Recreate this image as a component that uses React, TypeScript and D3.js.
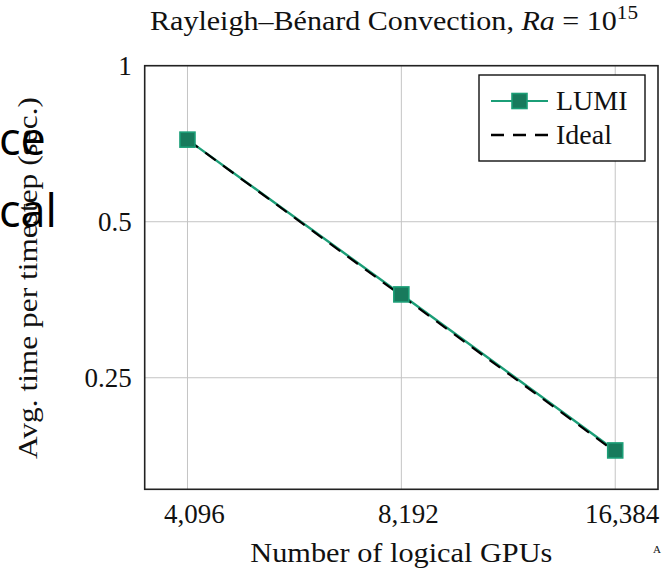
import React from "react";
import * as d3 from "d3";

const gpus = [4096, 8192, 16384];
const lumiTime = [0.72, 0.362, 0.181];
const idealTime = [0.72, 0.36, 0.18];
const yTicks = [1, 0.5, 0.25];
const xTickLabels = ["4,096", "8,192", "16,384"];
const yTickLabels = ["1", "0.5", "0.25"];
const seriesNames = ["LUMI", "Ideal"];

const W = 667;
const H = 570;
const left = 144.7, right = 658, top = 65.7, bottom = 489.3;

const FONT = "'Liberation Serif', 'Times New Roman', serif";
const GREEN = "#1b9e77";
const GREEN_FILL = "#187a5c";

export default function App() {
  const x = d3.scaleLog().base(2).domain([Math.pow(2, 11.8), Math.pow(2, 14.2)]).range([left, right]);
  const y = d3.scaleLog().base(2).domain([Math.pow(2, -2.715), 1]).range([bottom, top]);

  const line = d3
    .line<number>()
    .x((_, i) => x(gpus[i]))
    .y((d) => y(d));

  const ms = 15;
  const lx0 = 479, ly0 = 75, lw = 166, lh = 86;
  const row1 = 101, row2 = 135;
  const sx0 = 491, sx1 = 548;

  return (
    <svg width={W} height={H} style={{ position: "absolute", left: 0, top: 0, background: "#fff" }}>
      <rect x={0} y={0} width={W} height={H} fill="#fff" />
      {/* grid */}
      {gpus.map((g) => (
        <line key={"gx" + g} x1={x(g)} x2={x(g)} y1={top} y2={bottom} stroke="#c4c4c4" strokeWidth={1} />
      ))}
      {yTicks.map((t) => (
        <line key={"gy" + t} x1={left} x2={right} y1={y(t)} y2={y(t)} stroke="#c4c4c4" strokeWidth={1} />
      ))}
      {/* series */}
      <path d={line(lumiTime) || ""} fill="none" stroke={GREEN} strokeWidth={2.4} />
      <path d={line(idealTime) || ""} fill="none" stroke="#000" strokeWidth={2.2} strokeDasharray="13 9" />
      {lumiTime.map((v, i) => (
        <rect
          key={"m" + i}
          x={x(gpus[i]) - ms / 2}
          y={y(v) - ms / 2}
          width={ms}
          height={ms}
          fill={GREEN_FILL}
          stroke={GREEN}
          strokeWidth={1.6}
        />
      ))}
      {/* axis box */}
      <rect x={left} y={top} width={right - left} height={bottom - top} fill="none" stroke="#222" strokeWidth={1.6} />
      {/* y tick labels */}
      {yTicks.map((t, i) => (
        <text key={"yl" + t} x={left - 13} y={y(t)} dy="0.33em" textAnchor="end" fontFamily={FONT} fontSize={27} fill="#111">
          {yTickLabels[i]}
        </text>
      ))}
      {/* x tick labels */}
      {gpus.map((g, i) => (
        <text key={"xl" + g} x={x(g)} dx={7} y={523} textAnchor="middle" fontFamily={FONT} fontSize={27} fill="#111">
          {xTickLabels[i]}
        </text>
      ))}
      {/* axis labels */}
      <text x={(left + right) / 2} y={562} textAnchor="middle" fontFamily={FONT} fontSize={27} fill="#111" textLength={302} lengthAdjust="spacingAndGlyphs">
        Number of logical GPUs
      </text>
      <text
        transform={`translate(37,278) rotate(-90)`}
        textAnchor="middle"
        fontFamily={FONT}
        fontSize={27}
        fill="#111"
        textLength={362}
        lengthAdjust="spacingAndGlyphs"
      >
        Avg. time per timestep (sec.)
      </text>
      {/* title */}
      <text x={150} y={30} fontFamily={FONT} fontSize={27} fill="#111" textLength={488} lengthAdjust="spacingAndGlyphs">
        Rayleigh–Bénard Convection, <tspan fontStyle="italic">Ra</tspan> = 10
        <tspan dy={-11} fontSize={19}>15</tspan>
      </text>
      {/* legend */}
      <rect x={lx0} y={ly0} width={lw} height={lh} fill="#fff" stroke="#111" strokeWidth={1.4} />
      <line x1={sx0} x2={sx1} y1={row1} y2={row1} stroke={GREEN} strokeWidth={2} />
      <rect x={(sx0 + sx1) / 2 - ms / 2} y={row1 - ms / 2} width={ms} height={ms} fill={GREEN_FILL} stroke={GREEN} strokeWidth={1.6} />
      <line x1={sx0} x2={sx1} y1={row2} y2={row2} stroke="#000" strokeWidth={2.4} strokeDasharray="13 9" />
      <text x={556} y={row1 + 9} fontFamily={FONT} fontSize={28} fill="#111">{seriesNames[0]}</text>
      <text x={556} y={row2 + 9} fontFamily={FONT} fontSize={28} fill="#111">{seriesNames[1]}</text>
      {/* stray overlapping text fragments */}
      <text x={-1} y={155} fontFamily="'Open Sans', 'Noto Sans', sans-serif" fontSize={45} fill="#000">ce</text>
      <text x={-1} y={227} fontFamily="'Open Sans', 'Noto Sans', sans-serif" fontSize={45} fill="#000">cal</text>
      <text x={657} y={553} textAnchor="middle" fontFamily={FONT} fontSize={11} fill="#111">A</text>
    </svg>
  );
}
